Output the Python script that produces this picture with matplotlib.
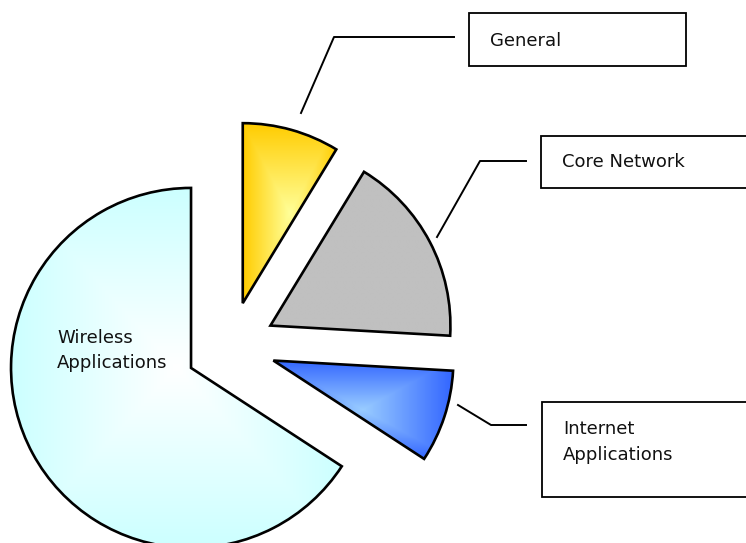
import matplotlib.pyplot as plt
import numpy as np
from matplotlib.colors import to_rgb
from matplotlib.patches import Rectangle

W, H = 746, 543

# slice order follows the pie, counter-clockwise from 12 o'clock
categories = ["Wireless\nApplications", "Internet\nApplications", "Core Network", "General"]
shares = [65.8, 8.3, 17.2, 8.7]
inner_colors = ["#ffffff", "#99ccff", "#c0c0c0", "#ffff99"]
outer_colors = ["#ccffff", "#3366ff", "#c0c0c0", "#ffcc00"]

# callout layout in pixel space (x, y from top-left)
boxes = {
    "General": (469, 13, 217, 53),
    "Core Network": (541, 136, 230, 52),
    "Internet\nApplications": (542, 402, 230, 95),
}
text_pos = {
    "General": (490, 46),
    "Core Network": (562, 167),
    "Internet\nApplications": (563, 434),
    "Wireless\nApplications": (57, 343),
}
leaders = {
    "General": [(301, 113), (334, 37), (454, 37)],
    "Core Network": [(437, 237), (480, 161), (526, 161)],
    "Internet\nApplications": [(458, 405), (491, 425), (526, 425)],
}


def fy(y):
    return H - y


def gradient_fill(ax, wedge, c_in, c_out, n=200):
    # rectangular "from centre" gradient over the wedge bounding box
    ext = wedge.get_path().get_extents()
    x0, y0, x1, y1 = ext.x0, ext.y0, ext.x1, ext.y1
    gx, gy = np.meshgrid(np.linspace(-1, 1, n), np.linspace(-1, 1, n))
    t = np.maximum(np.abs(gx), np.abs(gy))[..., None]
    rgb = np.array(to_rgb(c_in)) * (1 - t) + np.array(to_rgb(c_out)) * t
    im = ax.imshow(rgb, extent=(x0, x1, y0, y1), origin="lower",
                   interpolation="bilinear", zorder=1)
    im.set_clip_path(wedge)


fig = plt.figure(figsize=(W / 100, H / 100), dpi=100)
ax = fig.add_axes([0, 0, 1, 1])

wedges, _ = ax.pie(
    shares, startangle=90, counterclock=True, radius=180,
    center=(230.6, fy(346.5)), explode=[45] * len(shares),
    colors=outer_colors,
    wedgeprops=dict(edgecolor="black", linewidth=1.9),
)
for w, ci, co in zip(wedges, inner_colors, outer_colors):
    gradient_fill(ax, w, ci, co)
    w.set_facecolor("none")
    w.set_zorder(3)

for name, (x, y, bw, bh) in boxes.items():
    ax.add_patch(Rectangle((x, fy(y + bh)), bw, bh, facecolor="white",
                           edgecolor="black", linewidth=1.3, zorder=4))

for name, pts in leaders.items():
    xs = [p[0] for p in pts]
    ys = [fy(p[1]) for p in pts]
    ax.plot(xs, ys, color="black", linewidth=1.4, zorder=4)

for name, (x, y) in text_pos.items():
    for i, line in enumerate(name.split("\n")):
        ax.text(x, fy(y + i * 25.5), line, fontsize=13, color="#111111",
                family="DejaVu Sans", va="baseline", ha="left", zorder=5)

ax.set_xlim(0, W)
ax.set_ylim(0, H)
ax.set_aspect("auto")
ax.axis("off")

fig.savefig("out.png", dpi=100)
